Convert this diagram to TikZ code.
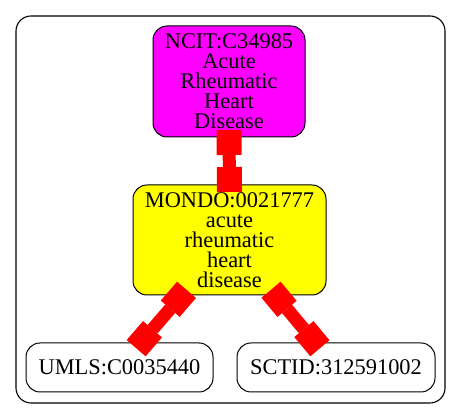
\documentclass[tikz,border=0pt]{standalone}
\usepackage{fontspec}
\setmainfont{Liberation Serif}
\usetikzlibrary{arrows.meta}
\definecolor{nodemagenta}{RGB}{255,0,255}
\definecolor{nodeyellow}{RGB}{255,255,0}
\definecolor{linkred}{RGB}{255,0,0}
\begin{document}
\begin{tikzpicture}[x=1pt,y=1pt,
  box/.style={draw=black, line width=1pt, rounded corners=14pt, inner sep=0pt,
    align=center, font=\fontsize{22.4}{20}\selectfont},
  link/.style={draw=linkred, line width=13pt,
    {Square[length=25pt,width=25pt,line width=0pt]}-{Square[length=25pt,width=25pt,line width=0pt]},
    shorten <=-7.5pt, shorten >=-7.5pt}]
\useasboundingbox (0,0) rectangle (461,419);
\draw[line width=1.1pt, rounded corners=15pt] (16,16) rectangle (445,403);
\node[box, fill=nodemagenta, minimum width=152pt, minimum height=111pt] (ncit) at (229,337.5)
  {NCIT:C34985\\Acute\\Rheumatic\\Heart\\Disease};
\node[box, fill=nodeyellow, minimum width=193pt, minimum height=110pt] (mondo) at (229.5,179)
  {MONDO:0021777\\acute\\rheumatic\\heart\\disease};
\node[box, minimum width=187pt, minimum height=49pt] (umls) at (119.5,51.5) {UMLS:C0035440};
\node[box, minimum width=198pt, minimum height=49pt] (sctid) at (336,51.5) {SCTID:312591002};
\draw[link] (ncit) -- (mondo);
\draw[link] (mondo) -- (umls);
\draw[link] (mondo) -- (sctid);
\end{tikzpicture}
\end{document}
